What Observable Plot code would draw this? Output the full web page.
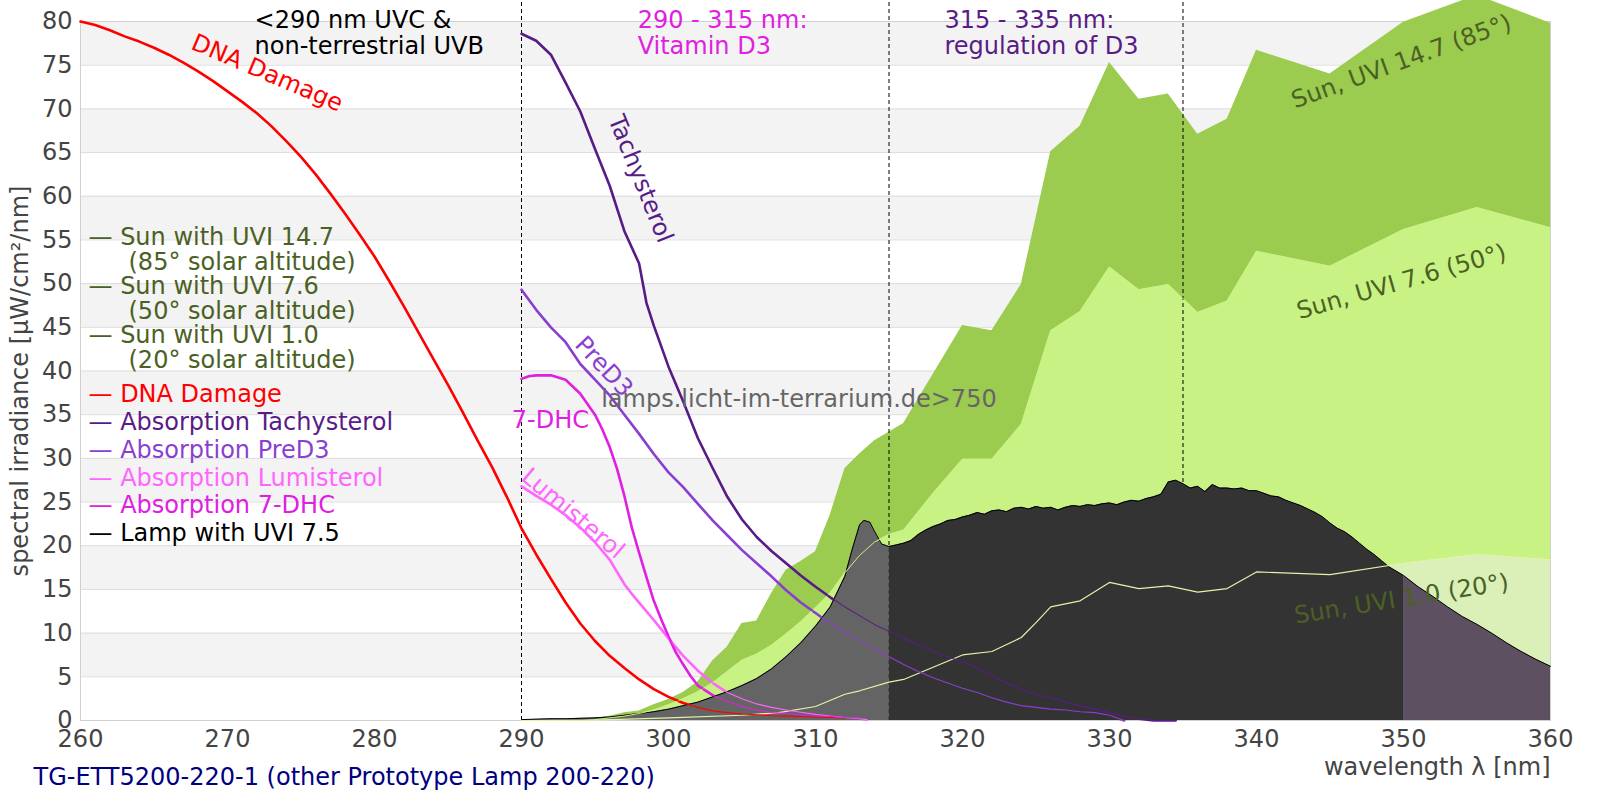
<!DOCTYPE html>
<html>
<head>
<meta charset="utf-8">
<script src="https://cdn.jsdelivr.net/npm/d3@7"></script>
<script src="https://cdn.jsdelivr.net/npm/@observablehq/plot@0.6"></script>
<style>
  body { margin: 0; background: #fff; }
  #chart svg { display: block; }
</style>
</head>
<body>
<div id="chart"></div>
<script>
// ---------- data ----------
const xTicks = [260, 270, 280, 290, 300, 310, 320, 330, 340, 350, 360];
const yTicks = [0, 5, 10, 15, 20, 25, 30, 35, 40, 45, 50, 55, 60, 65, 70, 75, 80];
const regionBounds = [290, 315, 335];
const lampColourSplits = [315, 350];

const sun147 = [[290,0],[293,0],[294,0.05],[295,0.3],[296,0.5],[297,0.9],[298,1.1],[299,1.8],[300,2.4],[301,3.2],[302,4.4],[303,6.8],[304,8.4],[305,11.1],[306,11.4],[307,14.5],[308,17.2],[309,18.2],[310,19.3],[311,23.5],[312,28.8],[313,30.5],[314,32.0],[315,33.0],[316,34.0],[318,39.6],[320,45.2],[322,44.6],[324,49.9],[326,65.1],[328,68.0],[330,75.3],[332,71.1],[334,71.7],[336,67.1],[338,68.8],[340,76.7],[345,74.0],[350,79.9],[355,83.0],[360,79.8]];
const sun76 = [[290,0],[294,0],[295,0.1],[296,0.3],[297,0.5],[298,0.8],[299,1.2],[300,1.8],[301,2.5],[302,3.3],[303,4.3],[304,5.6],[305,6.9],[306,7.6],[307,8.6],[308,9.9],[309,11.3],[310,12.9],[311,14.6],[312,16.9],[313,18.9],[314,20.4],[315,21.3],[316,21.8],[318,26.0],[320,29.9],[322,29.9],[324,33.9],[326,44.6],[328,46.8],[330,51.9],[332,49.3],[334,49.9],[336,46.7],[338,48.0],[340,53.7],[345,52.0],[350,56.2],[355,58.7],[360,56.4]];
const sun10 = [[290,0],[295,0.05],[300,0.3],[305,0.6],[307.5,0.9],[310,1.6],[312,3.0],[313,3.4],[315,4.4],[316,4.7],[320,7.5],[322,7.9],[324,9.5],[325,11.2],[326,13.0],[328,13.7],[330,15.8],[332,15.1],[334,15.4],[336,14.7],[338,15.1],[340,17.0],[345,16.7],[350,18.0],[355,19.0],[360,18.4]];
const lamp = [[290,0.1],[291,0.15],[292,0.2],[293,0.2],[294,0.25],[295,0.3],[296,0.4],[297,0.6],[298,0.8],[299,1.0],[300,1.3],[301,1.7],[302,2.1],[303,2.7],[304,3.3],[305,4.0],[306,4.8],[307,5.9],[308,7.3],[309,8.9],[310,10.8],[311,13.0],[312,16.5],[312.5,19.6],[313,22.4],[313.3,22.9],[313.7,22.7],[314,21.7],[314.5,20.2],[315,19.9],[315.5,20.1],[316,20.3],[316.5,20.6],[317,21.3],[317.5,21.8],[318,22.2],[318.5,22.5],[319,22.9],[319.5,23.0],[320,23.3],[320.5,23.5],[321,23.8],[321.5,23.6],[322,24.0],[322.5,24.1],[323,23.9],[323.5,24.3],[324,24.4],[324.5,24.2],[325,24.5],[325.5,24.3],[326,24.4],[326.5,24.1],[327,24.4],[327.5,24.6],[328,24.5],[328.5,24.7],[329,24.6],[329.5,24.8],[330,24.9],[330.5,24.7],[331,25.0],[331.5,25.2],[332,25.1],[332.5,25.4],[333,25.6],[333.5,25.9],[334,27.3],[334.5,27.5],[335,27.1],[335.5,26.6],[336,26.8],[336.5,26.2],[337,27.0],[337.5,26.6],[338,26.6],[338.5,26.5],[339,26.6],[339.5,26.3],[340,26.3],[340.5,26.0],[341,25.7],[341.5,25.6],[342,25.2],[342.5,24.9],[343,24.6],[343.5,24.2],[344,23.8],[344.5,23.3],[345,22.6],[345.5,22.0],[346,21.6],[346.5,21.0],[347,20.3],[347.5,19.6],[348,19.0],[348.5,18.3],[349,17.6],[349.5,17.1],[350,16.6],[351,15.3],[352,14.2],[353,13.0],[354,11.9],[355,11.0],[356,10.0],[357,8.9],[358,7.9],[359,7.0],[360,6.2]];
const dnaDamage = [[260,80],[261,79.6],[262,79.0],[263,78.3],[264,77.7],[265,77.0],[266,76.2],[267,75.3],[268,74.3],[269,73.2],[270,72.0],[271,70.8],[272,69.5],[273,68.0],[274,66.3],[275,64.5],[276,62.5],[277,60.3],[278,58.0],[279,55.6],[280,53.1],[281,50.3],[282,47.4],[283,44.4],[284,41.4],[285,38.4],[286,35.3],[287,32.1],[288,29.0],[289,25.6],[290,22.0],[291,19.0],[292,16.2],[293,13.5],[294,11.1],[295,9.1],[296,7.4],[297,6.0],[298,4.7],[299,3.6],[300,2.7],[301,2.0],[302,1.5],[303,1.1],[304,0.9],[305,0.75],[306,0.65],[307,0.55],[308,0.5],[309,0.45],[310,0.4],[311,0.35],[312,0.3]];
const tachysterol = [[290,78.6],[291,77.8],[292,76.2],[293,73.0],[294,69.7],[295,65.4],[296,61.2],[297,56.0],[298,52.3],[298.5,47.8],[299,45.2],[300,40.5],[301,36.5],[302,32.3],[303,28.9],[304,25.6],[305,23.0],[306,21.0],[307,19.4],[308,18.0],[309,16.6],[310,15.3],[311,14.1],[312,13.0],[313,12.0],[314,11.0],[315,10.2],[316,9.4],[317,8.7],[318,7.9],[319,7.3],[320,6.7],[321,6.0],[322,5.2],[323,4.3],[324,3.6],[325,3.0],[326,2.6],[327,2.1],[328,1.7],[329,1.3],[330,0.9],[331,0.5],[332,0.2],[333,0],[334.5,0]];
const preD3 = [[290,49.3],[291,47.0],[292,45.0],[293,43.3],[294,40.8],[295,39.0],[296,37.2],[297,35.0],[298,32.8],[299,30.5],[300,28.4],[301,26.7],[302,24.8],[303,22.9],[304,21.2],[305,19.5],[306,18.0],[307,16.5],[308,14.9],[309,13.5],[310,12.3],[311,11.1],[312,10.1],[313,9.2],[314,8.2],[315,7.3],[316,6.4],[317,5.6],[318,4.9],[319,4.3],[320,3.7],[321,3.2],[322,2.6],[323,2.1],[324,1.7],[325,1.5],[326,1.3],[327,1.2],[328,1.0],[329,0.9],[330,0.6],[331,0]];
const lumisterol = [[290,26.8],[291,25.7],[292,24.7],[293,23.5],[294,22.1],[295,20.4],[296,18.4],[297,15.6],[297.5,14.5],[298,13.5],[299,11.5],[300,9.4],[301,7.4],[302,5.7],[303,4.3],[304,3.2],[305,2.5],[306,1.9],[307,1.5],[308,1.2],[309,0.95],[310,0.7],[311,0.5],[312,0.35],[313,0.2],[313.5,0.1]];
const dhc7 = [[290,39.1],[290.5,39.4],[291,39.5],[292,39.5],[293,39.0],[294,37.4],[295,35.0],[295.5,33.3],[296,31.3],[296.5,28.8],[297,25.7],[297.5,22.1],[298,19.2],[298.5,16.4],[299,13.7],[299.5,11.6],[300,9.6],[300.5,7.8],[301,6.4],[301.5,5.1],[302,4.0],[303,2.9],[304,2.2],[305,1.6],[306,1.2],[307,0.9],[308,0.8],[309,0.65],[310,0.55],[311,0.45],[312,0.35],[313,0.3]];

const legendSun = [
  ["— Sun with UVI 14.7", "(85° solar altitude)"],
  ["— Sun with UVI 7.6", "(50° solar altitude)"],
  ["— Sun with UVI 1.0", "(20° solar altitude)"]
];
const legendCurves = ["— DNA Damage", "— Absorption Tachysterol", "— Absorption PreD3", "— Absorption Lumisterol", "— Absorption 7-DHC", "— Lamp with UVI 7.5"];

const curveLabels = [
  {x: 272.7, y: 74.1, text: "DNA Damage", rotate: 23, key: "dna"},
  {x: 298.1, y: 62.0, text: "Tachysterol", rotate: 68, key: "tachy"},
  {x: 295.6, y: 40.5, text: "PreD3", rotate: 47, key: "pre"},
  {x: 291.97, y: 34.3, text: "7-DHC", rotate: 0, key: "dhc"},
  {x: 293.5, y: 23.7, text: "Lumisterol", rotate: 40, key: "lumi"}
];
const sunLabels = [
  {x: 349.86, y: 75.4, text: "Sun, UVI 14.7 (85°)", rotate: -20},
  {x: 349.86, y: 50.2, text: "Sun, UVI 7.6 (50°)", rotate: -16},
  {x: 349.86, y: 13.9, text: "Sun, UVI 1.0 (20°)", rotate: -9}
];
const regionNotes = [
  {x: 271.84, y: 78.75, text: "<290 nm UVC &\nnon-terrestrial UVB", key: "uvc"},
  {x: 297.9, y: 78.75, text: "290 - 315 nm:\nVitamin D3", key: "vit"},
  {x: 318.77, y: 78.75, text: "315 - 335 nm:\nregulation of D3", key: "reg"}
];
const watermark = [{x: 295.42, y: 36.8, text: "lamps.licht-im-terrarium.de>750"}];
const caption = "TG-ETT5200-220-1 (other Prototype Lamp 200-220)";

// ---------- styles ----------
const C = {
  sun147: "#9bcb4f", sun76: "#c8f283", sun10: "#dbefb9", sun10line: "#e3f3a8",
  lampA: "#646464", lampB: "#333333", lampC: "#5d5061",
  dna: "#ff0000", tachy: "#581c87", pre: "#8b3fd0", lumi: "#ff66ff", dhc: "#e020e0",
  lamp: "#000000", sunText: "#4b6124", uvc: "#000000", vit: "#e020e0", reg: "#581c87"
};
const pts = a => a.map(([x, y]) => ({x, y}));
const S147 = pts(sun147), S76 = pts(sun76), S10 = pts(sun10), L = pts(lamp);
const curves = [
  {data: pts(dnaDamage), color: C.dna},
  {data: pts(tachysterol), color: C.tachy},
  {data: pts(preD3), color: C.pre},
  {data: pts(lumisterol), color: C.lumi},
  {data: pts(dhc7), color: C.dhc}
];
const legendColors = [C.dna, C.tachy, C.pre, C.lumi, C.dhc, C.lamp];
const FS = 24;

const bands = yTicks.filter(v => v % 10 === 5);

const marks = [
  Plot.rect(bands, {x1: xTicks[0], x2: xTicks[xTicks.length - 1], y1: d => d, y2: d => d + 5, fill: "#f3f3f3"}),
  Plot.ruleY(yTicks, {stroke: "#dddddd", strokeWidth: 1}),
  Plot.frame({stroke: "#d0d0d0"}),
  Plot.areaY(S147, {x: "x", y: "y", fill: C.sun147}),
  Plot.areaY(S76, {x: "x", y: "y", fill: C.sun76}),
  Plot.areaY(S10, {x: "x", y: "y", fill: C.sun10}),
  Plot.ruleX(regionBounds, {y1: 0, y2: 82.4, stroke: "#000", strokeWidth: 1, strokeDasharray: "4,3"}),
  // thick curves (below the lamp)
  ...curves.map(c => Plot.line(c.data, {x: "x", y: "y", stroke: c.color, strokeWidth: 2.6})),
  // lamp
  Plot.areaY(L.filter(d => d.x <= lampColourSplits[0]), {x: "x", y: "y", fill: C.lampA}),
  Plot.areaY(L.filter(d => d.x >= lampColourSplits[0] && d.x <= lampColourSplits[1]), {x: "x", y: "y", fill: C.lampB}),
  Plot.areaY(L.filter(d => d.x >= lampColourSplits[1]), {x: "x", y: "y", fill: C.lampC}),
  Plot.line(L, {x: "x", y: "y", stroke: C.lamp, strokeWidth: 1}),
  // thin lines above the lamp
  Plot.line(S76, {x: "x", y: "y", stroke: C.sun76, strokeWidth: 1}),
  Plot.line(S10, {x: "x", y: "y", stroke: C.sun10line, strokeWidth: 1.2}),
  ...curves.map(c => Plot.line(c.data, {x: "x", y: "y", stroke: c.color, strokeWidth: 1.1})),
  // axes
  Plot.axisX(xTicks, {tickSize: 0, tickPadding: 9, fill: "#444", label: null, fontSize: FS}),
  Plot.axisY(yTicks, {tickSize: 0, tickPadding: 8, fill: "#444", label: null, fontSize: FS}),
  // texts
  Plot.text(curveLabels, {x: "x", y: "y", text: "text", rotate: "rotate", fill: d => C[d.key], fontSize: FS, textAnchor: "middle", lineAnchor: "middle"}),
  Plot.text(sunLabels, {x: "x", y: "y", text: "text", rotate: "rotate", fill: C.sunText, fontSize: FS, textAnchor: "middle", lineAnchor: "middle"}),
  Plot.text(regionNotes, {x: "x", y: "y", text: "text", fill: d => C[d.key], fontSize: FS, textAnchor: "start", lineAnchor: "middle", lineHeight: 1.11}),
  Plot.text(watermark, {x: "x", y: "y", text: "text", fill: "#666", fontSize: FS, textAnchor: "start", lineAnchor: "middle"}),
  // legend
  ...legendSun.flatMap((d, i) => [
    Plot.text([d[0]], {frameAnchor: "top-left", dx: 8, dy: 216 + i * 49, text: t => t, fill: C.sunText, fontSize: FS, textAnchor: "start", lineAnchor: "middle"}),
    Plot.text([d[1]], {frameAnchor: "top-left", dx: 48, dy: 240.5 + i * 49, text: t => t, fill: C.sunText, fontSize: FS, textAnchor: "start", lineAnchor: "middle"})
  ]),
  ...legendCurves.map((d, i) =>
    Plot.text([d], {frameAnchor: "top-left", dx: 8, dy: 373 + i * 27.8, text: t => t, fill: legendColors[i], fontSize: FS, textAnchor: "start", lineAnchor: "middle"})
  ),
  // axis labels & caption
  Plot.text(["spectral irradiance [µW/cm²/nm]"], {frameAnchor: "left", dx: -60, dy: 10, rotate: -90, text: t => t, fill: "#444", fontSize: FS, textAnchor: "middle", lineAnchor: "middle"}),
  Plot.text(["wavelength λ [nm]"], {frameAnchor: "bottom-right", dx: 0, dy: 47, text: t => t, fill: "#444", fontSize: FS, textAnchor: "end", lineAnchor: "middle"}),
  Plot.text([caption], {frameAnchor: "bottom-left", dx: -47, dy: 57, text: t => t, fill: "#000080", fontSize: FS, textAnchor: "start", lineAnchor: "middle"})
];

const chart = Plot.plot({
  width: 1600,
  height: 800,
  marginLeft: 80,
  marginRight: 50,
  marginTop: 21,
  marginBottom: 80,
  style: {fontFamily: "DejaVu Sans", fontSize: FS + "px", background: "#fff"},
  x: {domain: [260, 360], label: null},
  y: {domain: [0, 80], label: null},
  marks
});
document.getElementById("chart").appendChild(chart);
</script>
</body>
</html>
